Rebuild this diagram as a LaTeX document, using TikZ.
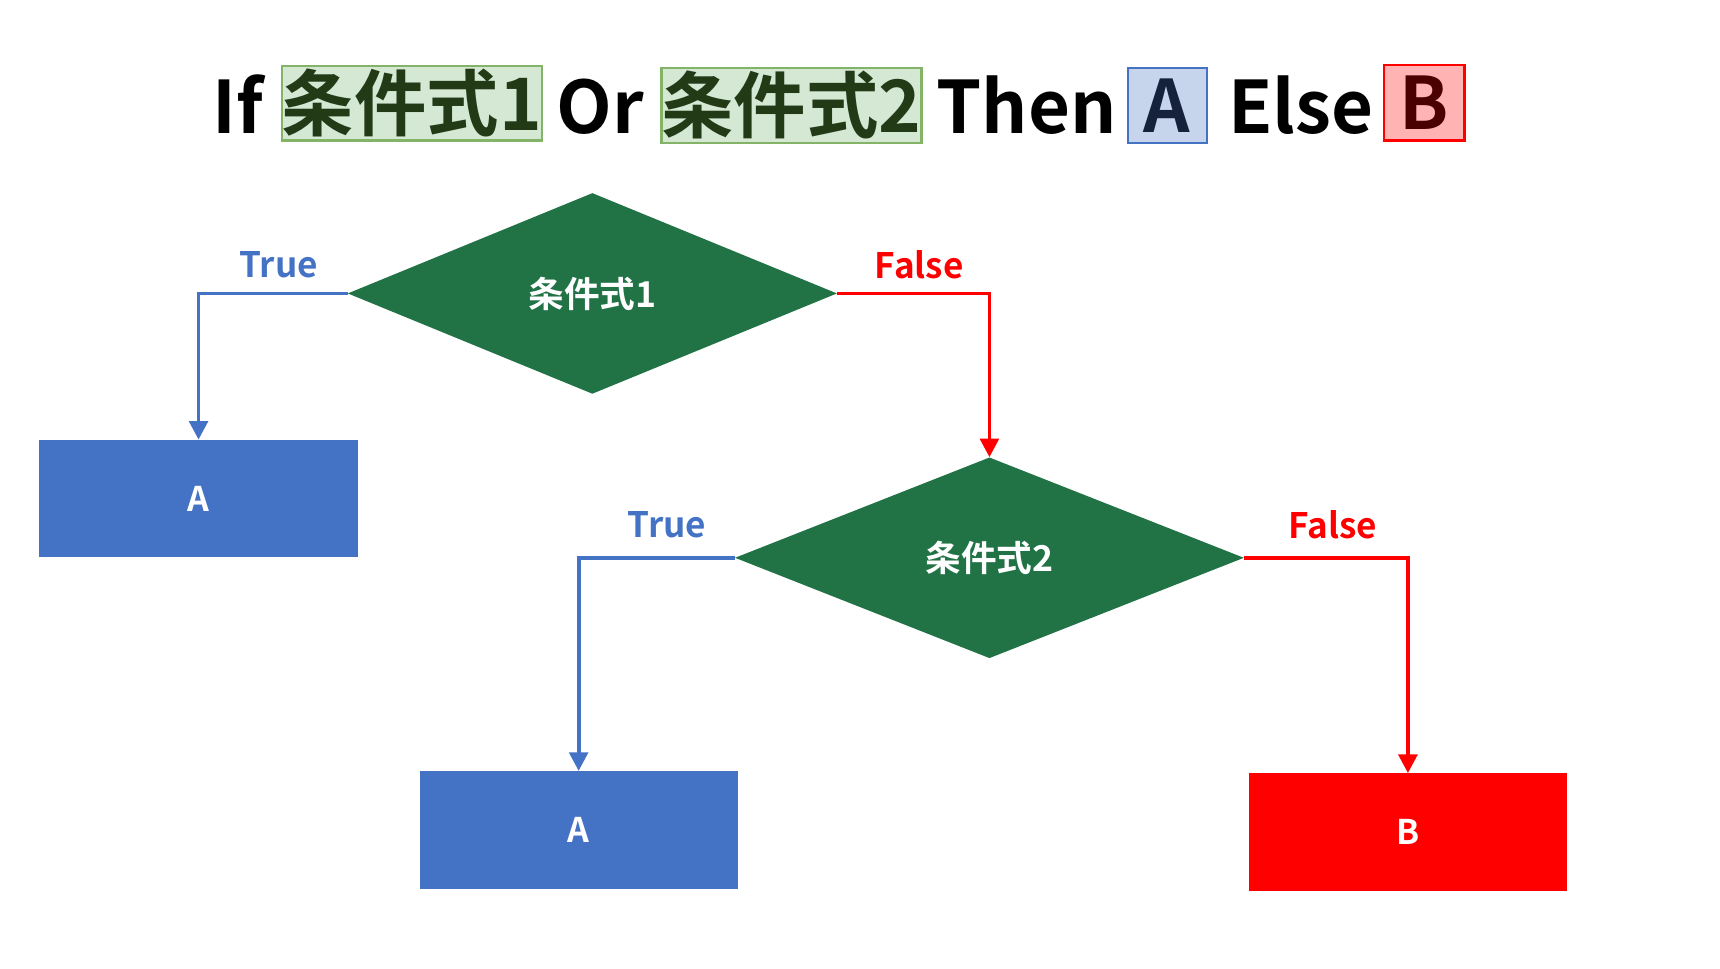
\documentclass[tikz,border=0pt]{standalone}
\usepackage{fontspec}
\setmainfont{Noto Sans CJK JP}[BoldFont={* Bold}]
\usetikzlibrary{arrows.meta,shapes.geometric}
\definecolor{xlgreen}{HTML}{217346}
\definecolor{xlblue}{HTML}{4472C4}
\definecolor{xlred}{HTML}{FF0000}
\definecolor{gfill}{HTML}{D5E8D4}
\definecolor{gdraw}{HTML}{82B366}
\definecolor{gtext}{HTML}{233A17}
\definecolor{bfill}{HTML}{C6D4EC}
\definecolor{btext}{HTML}{16213B}
\definecolor{rfill}{HTML}{FFB3B3}
\definecolor{rtext}{HTML}{4A0000}
\tikzset{
  titletext/.style={inner sep=0pt, anchor=base, font=\fontsize{66}{70}\selectfont\bfseries},
  titlebox/.style={draw, line width=2pt, inner sep=0pt, font=\fontsize{66}{70}\selectfont\bfseries},
  decision/.style={diamond, fill=xlgreen, inner sep=0pt, aspect=2.4, text=white, font=\fontsize{32.5}{34}\selectfont\bfseries},
  outbox/.style={rectangle, inner sep=0pt, minimum width=290pt, minimum height=107pt, text=white, font=\fontsize{31}{33}\selectfont\bfseries},
  truearrow/.style={draw=xlblue, line width=3.5pt, -{Triangle[length=17pt,width=17pt]}},
  falsearrow/.style={draw=xlred, line width=3.5pt, -{Triangle[length=17pt,width=17pt]}},
  edgelabel/.style={inner sep=0pt, font=\fontsize{32}{34}\selectfont\bfseries},
}
\begin{document}
\begin{tikzpicture}[x=1pt,y=-1pt]
\useasboundingbox (0,0) rectangle (1568,882.5);
% title
\node[titletext] (tif) at (217,122) {If};
\node[titlebox, draw=gdraw, fill=gfill, text=gtext, minimum width=233pt, minimum height=68pt] (tc1) at (375.5,94) {条件式1};
\node[titletext] (tor) at (547,122) {Or};
\node[titlebox, draw=gdraw, fill=gfill, text=gtext, minimum width=233pt, minimum height=68pt] (tc2) at (721.5,96) {条件式2};
\node[titletext] (tthen) at (936,122) {Then};
\node[titlebox, draw=xlblue, fill=bfill, text=btext, minimum width=72pt, minimum height=68pt] (ta) at (1064,96) {A};
\node[titletext] (telse) at (1186,122) {Else};
\node[titlebox, draw=xlred, fill=rfill, text=rtext, minimum width=73pt, minimum height=69pt] (tb) at (1298.5,93.5) {B};
% flowchart
\node[decision, minimum width=446pt, minimum height=183pt] (d1) at (540,267.5) {条件式1};
\node[decision, minimum width=464pt, minimum height=183pt] (d2) at (902,508.5) {条件式2};
\node[outbox, fill=xlblue] (a1) at (181,454.5) {A};
\node[outbox, fill=xlblue] (a2) at (527.5,756.5) {A};
\node[outbox, fill=xlred] (b) at (1283.5,758.5) {B};
\coordinate (c1) at (181,267.5);
\coordinate (c2) at (902,267.5);
\coordinate (c3) at (527.5,508.5);
\coordinate (c4) at (1283.5,508.5);
\draw[truearrow] (d1.west) -- (c1) -- (a1.north);
\draw[falsearrow] (d1.east) -- (c2) -- (d2.north);
\draw[truearrow] (d2.west) -- (c3) -- (a2.north);
\draw[falsearrow] (d2.east) -- (c4) -- (b.north);
\node[edgelabel, text=xlblue] (l1) at (254,241) {True};
\node[edgelabel, text=xlred] (l2) at (838,241) {False};
\node[edgelabel, text=xlblue] (l3) at (608,478) {True};
\node[edgelabel, text=xlred] (l4) at (1215,478) {False};
\end{tikzpicture}
\end{document}
